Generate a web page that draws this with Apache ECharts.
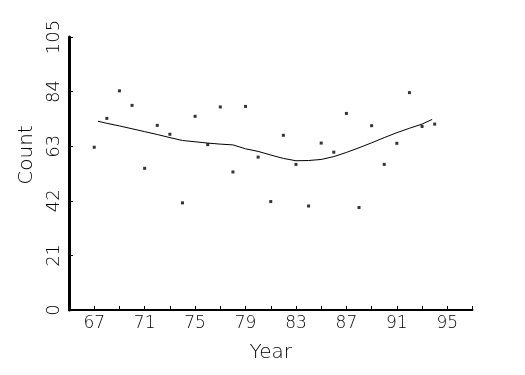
<!DOCTYPE html>
<html>
<head>
<meta charset="utf-8">
<script src="https://cdn.jsdelivr.net/npm/echarts@6/dist/echarts.min.js"></script>
<style>html,body{margin:0;padding:0;background:#fff}#c{width:525px;height:375px}</style>
</head>
<body>
<div id="c"></div>
<script>
var years = [67,68,69,70,71,72,73,74,75,76,77,78,79,80,81,82,83,84,85,86,87,88,89,90,91,92,93,94];
var counts = [62.6,73.7,84.3,78.7,54.5,71.0,67.6,41.2,74.5,63.6,78.1,53.1,78.3,58.8,41.7,67.2,56.0,40.0,64.2,60.7,75.6,39.4,70.9,56.0,64.1,83.6,70.6,71.5];
var fitYears = [67.3,68,69,70,71,72,73,74,75,76,77,78,79,80,81,82,83,84,85,86,87,88,89,90,91,92,93,93.8];
var fitValues = [72.6,71.8,70.8,69.7,68.6,67.5,66.3,65.2,64.7,64.2,63.8,63.5,62.0,61.0,59.6,58.3,57.4,57.5,57.9,59.0,60.6,62.4,64.3,66.3,68.2,69.9,71.5,73.3];
var yTicks = [0,21,42,63,84,105];
var xLabels = [67,71,75,79,83,87,91,95];

var font = 'DejaVu Sans';
var chart = echarts.init(document.getElementById('c'), null, {renderer:'canvas'});
chart.setOption({
  animation:false,
  backgroundColor:'#fff',
  grid:{left:69, right:52.5, top:37, bottom:65},
  xAxis:{
    type:'value', min:65, max:97, interval:2,
    name:'Year', nameLocation:'middle', nameGap:33,
    nameTextStyle:{fontFamily:font, fontSize:20, fontWeight:200, color:'#000'},
    axisLine:{lineStyle:{color:'#000', width:2}},
    axisTick:{inside:true, length:4, lineStyle:{color:'#000', width:1}},
    axisLabel:{margin:5, fontFamily:font, fontSize:17, fontWeight:200, color:'#000',
      formatter:function(v){return xLabels.indexOf(v)>=0 ? String(v) : '';}},
    splitLine:{show:false}
  },
  yAxis:{
    type:'value', min:yTicks[0], max:yTicks[yTicks.length-1], interval:21,
    name:'Count', nameLocation:'middle', nameGap:31, nameRotate:90,
    nameTextStyle:{fontFamily:font, fontSize:20, fontWeight:200, color:'#000', padding:[0,0,0,37]},
    axisLine:{lineStyle:{color:'#000', width:3}},
    axisTick:{inside:true, length:4, lineStyle:{color:'#000', width:1}},
    axisLabel:{rotate:90, margin:6, fontFamily:font, fontSize:18, fontWeight:200, color:'#000'},
    splitLine:{show:false}
  },
  series:[
    {type:'scatter', data:years.map(function(y,i){return [y,counts[i]];}),
     symbol:'rect', symbolSize:3, itemStyle:{color:'#000'}},
    {type:'line', data:fitYears.map(function(y,i){return [y,fitValues[i]];}),
     showSymbol:false, lineStyle:{color:'#000', width:1}}
  ]
});
</script>
</body>
</html>
